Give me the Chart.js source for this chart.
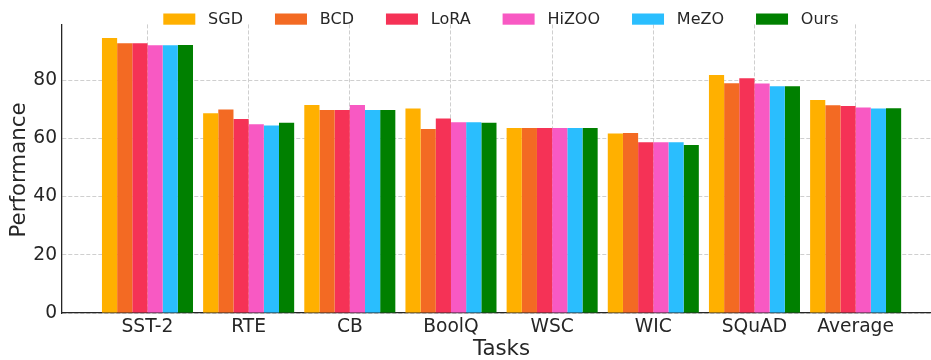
<!DOCTYPE html>
<html><head><meta charset="utf-8">
<script src="https://cdn.jsdelivr.net/npm/chart.js@4/dist/chart.umd.min.js"></script>
<style>html,body{margin:0;padding:0;background:#fff}#wrap{width:931px;height:360px;position:relative}</style>
</head><body><div id="wrap"><canvas id="c" width="931" height="360"></canvas></div>
<script>
const categories = ['SST-2','RTE','CB','BoolQ','WSC','WIC','SQuAD','Average'];
const methods = ['SGD','BCD','LoRA','HiZOO','MeZO','Ours'];
const sgd   = [94.4,68.6,71.4,70.2,63.5,61.6,81.7,73.1];
const bcd   = [92.6,69.9,69.7,63.2,63.5,61.8,78.9,71.3];
const lora  = [92.6,66.6,69.7,66.8,63.5,58.6,80.6,71.1];
const hizoo = [91.9,64.8,71.4,65.5,63.5,58.6,78.8,70.6];
const mezo  = [91.9,64.4,69.7,65.5,63.5,58.6,77.9,70.2];
const ours  = [92.0,65.3,69.7,65.3,63.5,57.7,77.9,70.3];
const yTicks = [0,20,40,60,80];
const xTitle = 'Tasks';
const yTitle = 'Performance';

const series = [sgd,bcd,lora,hizoo,mezo,ours];
const colors = ['#FFB000','#F36A23','#F53256','#F859C3','#2ABEFE','#008000'];
const FONT = 'DejaVu Sans';
const TXT = '#262626';
const GRID = '#cfcfcf';

const legendPlugin = {
  id: 'mplLegend',
  afterDraw(chart) {
    const ctx = chart.ctx;
    const fs = 16;
    ctx.save();
    ctx.font = fs + 'px "' + FONT + '"';
    ctx.textBaseline = 'middle';
    ctx.textAlign = 'left';
    let x = 163.3;
    chart.data.datasets.forEach(ds => {
      ctx.fillStyle = ds.backgroundColor;
      ctx.fillRect(x, 13.5, 2 * fs, 0.7 * fs);
      const tx = x + 2 * fs + 0.8 * fs;
      ctx.fillStyle = TXT;
      ctx.fillText(ds.label, tx, 19.8);
      x = tx + ctx.measureText(ds.label).width + 2 * fs;
    });
    // axis titles
    ctx.font = '21.33px "' + FONT + '"';
    ctx.textAlign = 'center';
    ctx.fillText(xTitle, 501.5, 349.3);
    ctx.translate(19.2, 170);
    ctx.rotate(-Math.PI / 2);
    ctx.fillText(yTitle, 0, 0);
    ctx.restore();
  }
};

new Chart(document.getElementById('c'), {
  type: 'bar',
  data: {
    datasets: methods.map((m, i) => ({
      label: m,
      data: series[i].map((v, j) => ({x: j, y: v})),
      backgroundColor: colors[i],
      borderWidth: 0
    }))
  },
  options: {
    responsive: false,
    animation: false,
    layout: {padding: {top: 24.4, left: 0, right: 0, bottom: 0}},
    datasets: {bar: {categoryPercentage: 0.9, barPercentage: 1.0}},
    plugins: {legend: {display: false}, tooltip: {enabled: false}},
    scales: {
      x: {
        type: 'linear',
        offset: false,
        min: -0.845,
        max: 7.745,
        afterBuildTicks: s => { s.ticks = categories.map((c, i) => ({value: i})); },
        afterFit: s => { s.height = 47; },
        ticks: {
          callback: v => categories[v],
          font: {family: FONT, size: 18.67},
          color: TXT,
          padding: 2.6,
          autoSkip: false,
          maxRotation: 0
        },
        grid: {offset: false, drawTicks: false, color: GRID, lineWidth: 1},
        border: {display: true, color: TXT, width: 1.3, dash: [4, 2]},
        title: {display: false}
      },
      y: {
        min: 0,
        max: 99.1,
        afterBuildTicks: s => { s.ticks = yTicks.map(v => ({value: v})); },
        afterFit: s => { s.width = 62; },
        ticks: {
          font: {family: FONT, size: 18.67},
          color: TXT,
          padding: 5
        },
        grid: {drawTicks: false, color: GRID, lineWidth: 1},
        border: {display: true, color: TXT, width: 1.3, dash: [4, 2]},
        title: {display: false}
      }
    }
  },
  plugins: [legendPlugin]
});
</script>
</body></html>
